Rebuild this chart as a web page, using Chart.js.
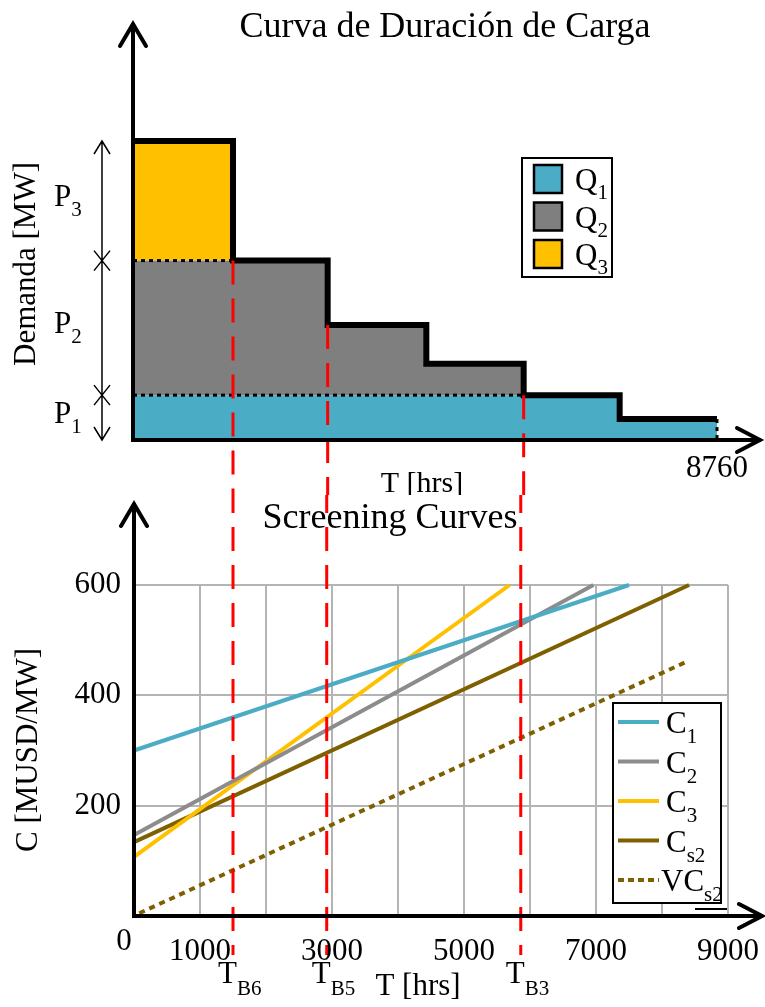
<!DOCTYPE html>
<html>
<head>
<meta charset="utf-8">
<script src="https://cdn.jsdelivr.net/npm/chart.js@4.4.1/dist/chart.umd.min.js"></script>
<style>
  html, body { margin: 0; padding: 0; background: #fff; }
  #wrap { position: relative; width: 765px; height: 1007px; }
  #topBox { position: absolute; left: 0; top: 0; width: 765px; height: 495px; }
  #botBox { position: absolute; left: 0; top: 495px; width: 765px; height: 512px; }
</style>
</head>
<body>
<div id="wrap">
  <div id="topBox"><canvas id="ldcChart"></canvas></div>
  <div id="botBox"><canvas id="screenChart"></canvas></div>
</div>
<script>
// Load duration curve (top chart)
let stepHours = [0, 1500, 2920, 4400, 5860, 7300, 8760];
let stepDemand = [100, 60, 38.5, 25.5, 15, 7, 7];
let p1Level = 15;
let p2Level = 60;
let bandMain = ["Q", "Q", "Q"];
let bandSub = ["1", "2", "3"];
let blockMain = ["P", "P", "P"];
let blockSub = ["1", "2", "3"];
let hoursInYear = 8760;

// break points shared by both charts
let breakHours = [1500, 2920, 5860];
let breakSub = ["B6", "B5", "B3"];

// Screening curves (bottom chart)
let curveMain = ["C", "C", "C", "C", "VC"];
let curveSub = ["1", "2", "3", "s2", "s2"];
let curveStartHours = [0, 0, 0, 0, 80];
let curveStartCost = [300, 147, 107, 134, 5];
let curveEndHours = [7500, 6960, 5690, 8410, 8410];
let curveEndCost = [600, 600, 600, 600, 463];
let costTicks = [200, 400, 600];
let hourTicks = [0, 1000, 3000, 5000, 7000, 9000];

// styles
let bandColours = ["#4bacc6", "#7f7f7f", "#ffc000"];
let curveColours = ["#4bacc6", "#8c8c8c", "#ffc000", "#7f6000", "#7f6000"];
let serif = '"Liberation Serif", "Times New Roman", serif';

function textWithSub(ctx, main, sub, x, y, size, subSize, drop) {
  ctx.font = size + "px " + serif;
  ctx.textAlign = "left";
  ctx.textBaseline = "alphabetic";
  ctx.fillText(main, x, y);
  let w = ctx.measureText(main).width;
  ctx.font = subSize + "px " + serif;
  ctx.fillText(sub, x + w, y + drop);
}

function axisArrows(ctx, left, bottom, topTip, rightTip) {
  ctx.strokeStyle = "#000";
  ctx.lineWidth = 4;
  ctx.lineCap = "butt";
  ctx.beginPath();
  ctx.moveTo(left, bottom + 2);
  ctx.lineTo(left, topTip);
  ctx.moveTo(left - 2, bottom);
  ctx.lineTo(rightTip, bottom);
  ctx.stroke();
  ctx.lineCap = "round";
  ctx.beginPath();
  ctx.moveTo(left - 13, topTip + 23);
  ctx.lineTo(left, topTip + 1);
  ctx.lineTo(left + 13, topTip + 23);
  ctx.moveTo(rightTip - 24, bottom - 12);
  ctx.lineTo(rightTip - 1, bottom);
  ctx.lineTo(rightTip - 24, bottom + 12);
  ctx.stroke();
  ctx.lineCap = "butt";
}

function levelAt(h) {
  let level = stepDemand[0];
  stepHours.forEach(function (s, i) {
    if (s <= h) level = stepDemand[i];
  });
  return level;
}

// ---------- top chart ----------
let q1 = stepDemand.map(function (d) { return Math.min(d, p1Level); });
let q2 = stepDemand.map(function (d) { return Math.min(d, p2Level); });
let q3 = stepDemand.slice();

function pts(xs, ys) {
  return xs.map(function (x, i) { return { x: x, y: ys[i] }; });
}

let ldcDecor = {
  id: "ldcDecor",
  afterDatasetsDraw: function (chart) {
    let ctx = chart.ctx;
    let xs = chart.scales.x;
    let ys = chart.scales.y;
    let a = chart.chartArea;
    ctx.save();

    // red break lines
    ctx.strokeStyle = "#ff0000";
    ctx.lineWidth = 3;
    ctx.setLineDash([24, 14]);
    breakHours.forEach(function (h) {
      let px = xs.getPixelForValue(h);
      ctx.beginPath();
      ctx.moveTo(px, ys.getPixelForValue(levelAt(h)));
      ctx.lineTo(px, chart.height);
      ctx.stroke();
    });
    ctx.setLineDash([]);

    axisArrows(ctx, a.left, a.bottom, 23, 761);

    ctx.fillStyle = "#000";
    // title
    ctx.font = "36px " + serif;
    ctx.textAlign = "center";
    ctx.textBaseline = "alphabetic";
    ctx.fillText("Curva de Duración de Carga", 445, 37);

    // x labels
    ctx.font = "31px " + serif;
    ctx.fillText(String(hoursInYear), xs.getPixelForValue(hoursInYear), 477);
    ctx.font = "30px " + serif;
    ctx.fillText("T [hrs]", 422, 492);

    // y title
    ctx.save();
    ctx.translate(27, 264);
    ctx.rotate(-Math.PI / 2);
    ctx.font = "31px " + serif;
    ctx.textAlign = "center";
    ctx.textBaseline = "middle";
    ctx.fillText("Demanda [MW]", 0, 0);
    ctx.restore();

    // double arrow with block marks
    let bx = 102;
    let yTop = ys.getPixelForValue(stepDemand[0]);
    let yBot = ys.getPixelForValue(0);
    let yP2 = ys.getPixelForValue(p2Level);
    let yP1 = ys.getPixelForValue(p1Level);
    ctx.strokeStyle = "#000";
    ctx.lineWidth = 1.5;
    ctx.beginPath();
    ctx.moveTo(bx, yTop);
    ctx.lineTo(bx, yBot);
    ctx.moveTo(bx - 8, yTop + 13);
    ctx.lineTo(bx, yTop);
    ctx.lineTo(bx + 8, yTop + 13);
    ctx.moveTo(bx - 8, yBot - 13);
    ctx.lineTo(bx, yBot);
    ctx.lineTo(bx + 8, yBot - 13);
    [yP2, yP1].forEach(function (yy) {
      ctx.moveTo(bx - 8, yy - 10);
      ctx.lineTo(bx + 8, yy + 10);
      ctx.moveTo(bx + 8, yy - 10);
      ctx.lineTo(bx - 8, yy + 10);
    });
    ctx.stroke();

    let mids = [(yP1 + yBot) / 2, (yP2 + yP1) / 2, (yTop + yP2) / 2];
    mids.forEach(function (m, i) {
      textWithSub(ctx, blockMain[i], blockSub[i], 54, m + 5, 31, 21, 10);
    });

    // legend
    ctx.fillStyle = "#fff";
    ctx.fillRect(522, 158, 90, 119);
    ctx.strokeStyle = "#000";
    ctx.lineWidth = 2;
    ctx.strokeRect(522, 158, 90, 119);
    bandColours.forEach(function (c, i) {
      let top = 165 + i * 37.5;
      ctx.fillStyle = c;
      ctx.fillRect(534, top, 28, 28);
      ctx.lineWidth = 2.5;
      ctx.strokeRect(534, top, 28, 28);
      ctx.fillStyle = "#000";
      textWithSub(ctx, bandMain[i], bandSub[i], 575, top + 25, 31, 21, 9);
    });
    ctx.restore();
  }
};

new Chart(document.getElementById("ldcChart").getContext("2d"), {
  type: "line",
  data: {
    datasets: [
      { data: pts(stepHours, q3), stepped: "before", borderColor: "#000", borderWidth: 6,
        fill: false, pointRadius: 0, order: 0, clip: false },
      { data: [{ x: 0, y: p2Level }, { x: breakHours[0], y: p2Level }], borderColor: "#000",
        borderWidth: 3, borderDash: [4, 4], fill: false, pointRadius: 0, order: 1, clip: false },
      { data: [{ x: 0, y: p1Level }, { x: breakHours[2], y: p1Level }], borderColor: "#000",
        borderWidth: 3, borderDash: [4, 4], fill: false, pointRadius: 0, order: 1, clip: false },
      { data: [{ x: hoursInYear, y: stepDemand[6] }, { x: hoursInYear, y: 0 }], borderColor: "#000",
        borderWidth: 3, borderDash: [4, 4], fill: false, pointRadius: 0, order: 1, clip: false },
      { data: pts(stepHours, q1), stepped: "before", borderWidth: 0, backgroundColor: bandColours[0],
        fill: "origin", pointRadius: 0, order: 4 },
      { data: pts(stepHours, q2), stepped: "before", borderWidth: 0, backgroundColor: bandColours[1],
        fill: 4, pointRadius: 0, order: 3 },
      { data: pts(stepHours, q3), stepped: "before", borderWidth: 0, backgroundColor: bandColours[2],
        fill: 5, pointRadius: 0, order: 2 }
    ]
  },
  options: {
    responsive: true,
    maintainAspectRatio: false,
    animation: false,
    layout: { padding: { left: 133, right: 48, top: 141, bottom: 55 } },
    plugins: { legend: { display: false }, tooltip: { enabled: false } },
    scales: {
      x: { type: "linear", min: 0, max: hoursInYear, display: false },
      y: { type: "linear", min: 0, max: stepDemand[0], display: false }
    }
  },
  plugins: [ldcDecor]
});

// ---------- bottom chart ----------
let screenDecor = {
  id: "screenDecor",
  afterDatasetsDraw: function (chart) {
    let ctx = chart.ctx;
    let xs = chart.scales.x;
    let ys = chart.scales.y;
    let a = chart.chartArea;
    ctx.save();

    // red break lines
    ctx.strokeStyle = "#ff0000";
    ctx.lineWidth = 3;
    ctx.setLineDash([24, 14]);
    breakHours.forEach(function (h) {
      let px = xs.getPixelForValue(h);
      ctx.beginPath();
      ctx.moveTo(px, -6);
      ctx.lineTo(px, 460);
      ctx.stroke();
    });
    ctx.setLineDash([]);

    axisArrows(ctx, a.left, a.bottom, 8, 763);

    ctx.fillStyle = "#000";
    ctx.font = "36px " + serif;
    ctx.textAlign = "center";
    ctx.textBaseline = "alphabetic";
    ctx.fillText("Screening Curves", 390, 33);

    // tick labels
    ctx.font = "31px " + serif;
    ctx.textAlign = "right";
    ctx.textBaseline = "middle";
    costTicks.forEach(function (v) {
      ctx.fillText(String(v), a.left - 13, ys.getPixelForValue(v));
    });
    ctx.textAlign = "center";
    hourTicks.forEach(function (v) {
      if (v === 0) {
        ctx.fillText("0", a.left - 10, a.bottom + 26);
      } else {
        ctx.fillText(String(v), xs.getPixelForValue(v), a.bottom + 36);
      }
    });

    // axis titles
    ctx.textBaseline = "alphabetic";
    ctx.fillText("T [hrs]", 418, 500);
    ctx.save();
    ctx.translate(29, 255);
    ctx.rotate(-Math.PI / 2);
    ctx.font = "31px " + serif;
    ctx.textAlign = "center";
    ctx.textBaseline = "middle";
    ctx.fillText("C [MUSD/MW]", 0, 0);
    ctx.restore();

    // break labels
    breakHours.forEach(function (h, i) {
      let px = xs.getPixelForValue(h);
      textWithSub(ctx, "T", breakSub[i], px - 15, 488, 31, 21, 12);
    });

    // legend
    ctx.fillStyle = "#fff";
    ctx.fillRect(613, 208, 108, 200);
    ctx.strokeStyle = "#000";
    ctx.lineWidth = 2;
    ctx.strokeRect(613, 208, 108, 200);
    curveColours.forEach(function (c, i) {
      let yy = 227 + i * 39.5;
      ctx.strokeStyle = c;
      ctx.lineWidth = 4;
      ctx.setLineDash(i === 4 ? [6, 4] : []);
      ctx.beginPath();
      ctx.moveTo(618, yy);
      ctx.lineTo(659, yy);
      ctx.stroke();
      ctx.setLineDash([]);
      ctx.fillStyle = "#000";
      textWithSub(ctx, curveMain[i], curveSub[i], i === 4 ? 661 : 666, yy + 11, 31, 21, 10);
    });
    ctx.strokeStyle = "#000";
    ctx.lineWidth = 2;
    ctx.beginPath();
    ctx.moveTo(695, 414);
    ctx.lineTo(727, 414);
    ctx.stroke();
    ctx.restore();
  }
};

let curveSets = curveColours.map(function (c, i) {
  return {
    label: curveMain[i] + curveSub[i],
    data: [
      { x: curveStartHours[i], y: curveStartCost[i] },
      { x: curveEndHours[i], y: curveEndCost[i] }
    ],
    borderColor: c,
    borderWidth: 4,
    borderDash: i === 4 ? [6, 5] : [],
    pointRadius: 0,
    fill: false,
    clip: false
  };
});

new Chart(document.getElementById("screenChart").getContext("2d"), {
  type: "line",
  data: { datasets: curveSets },
  options: {
    responsive: true,
    maintainAspectRatio: false,
    animation: false,
    layout: { padding: { left: 134, right: 37, top: 90, bottom: 91 } },
    plugins: { legend: { display: false }, tooltip: { enabled: false } },
    scales: {
      x: {
        type: "linear", min: 0, max: hourTicks[hourTicks.length - 1],
        ticks: { stepSize: 1000, display: false },
        grid: { color: "#b4b4b4", lineWidth: 2, drawTicks: false },
        border: { display: false }
      },
      y: {
        type: "linear", min: 0, max: costTicks[costTicks.length - 1],
        ticks: { stepSize: 200, display: false },
        grid: { color: "#b4b4b4", lineWidth: 2, drawTicks: false },
        border: { display: false }
      }
    }
  },
  plugins: [screenDecor]
});
</script>
</body>
</html>
